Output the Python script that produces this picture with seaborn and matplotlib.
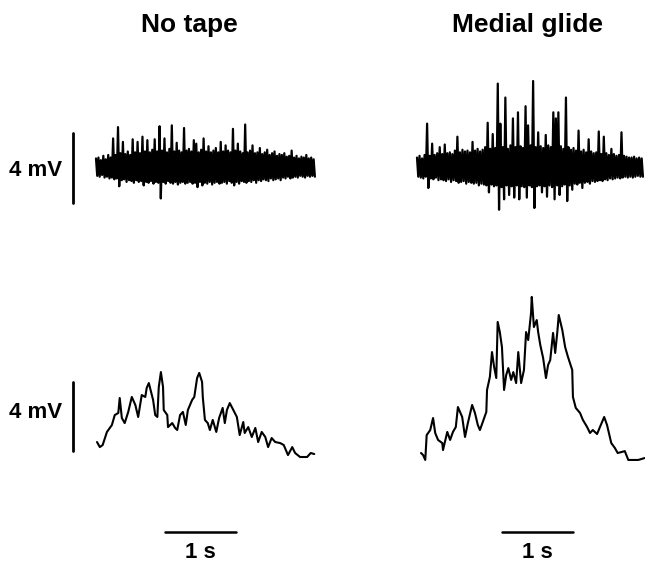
import numpy as np
import pandas as pd
import seaborn as sns
import matplotlib.pyplot as plt

# raw EMG, peak (upper) and trough (lower) excursions in mV, read every ~2.5 px
raw_notape_upper = [0.55, 0.6, 0.45, 0.7, 0.5, 0.75, 0.6, 1.7, 0.75, 2.35,
                    0.85, 1.5, 0.8, 0.95, 0.75, 1.65, 0.9, 1.5, 0.85, 1.8,
                    0.95, 1.6, 0.9, 1.05, 1.65, 0.95, 2.4, 1.0, 1.7, 0.9,
                    1.1, 2.45, 0.95, 1.45, 1.0, 0.9, 2.3, 1.0, 1.1, 0.95,
                    1.6, 1.4, 0.9, 1.05, 1.7, 0.95, 1.25, 0.9, 1.0, 1.15,
                    0.9, 1.5, 0.95, 1.3, 1.0, 0.9, 2.25, 1.0, 1.4, 0.95,
                    0.85, 2.5, 0.9, 1.0, 1.3, 0.85, 0.9, 1.15, 0.8, 0.9,
                    1.05, 0.75, 0.85, 0.95, 0.7, 0.8, 0.75, 0.85, 0.65, 0.7,
                    1.0, 0.6, 0.7, 0.55, 0.65, 0.6, 0.75, 0.55, 0.6, 0.5]
raw_notape_lower = [-0.45, -0.5, -0.4, -0.55, -0.5, -0.6, -0.55, -0.65, -0.6, -1.05,
                    -0.7, -0.65, -0.8, -0.7, -0.75, -0.85, -0.7, -0.8, -0.75, -1.0,
                    -0.8, -0.85, -0.75, -0.9, -0.8, -0.85, -1.75, -0.8, -0.9, -0.75,
                    -0.85, -0.9, -0.8, -0.95, -0.85, -0.8, -0.9, -0.85, -0.8, -0.9,
                    -0.85, -1.1, -0.8, -1.0, -0.85, -0.9, -0.8, -0.95, -0.85, -0.8,
                    -0.9, -0.85, -0.8, -0.9, -0.75, -0.85, -1.0, -0.8, -0.9, -0.75,
                    -0.8, -0.85, -0.75, -0.8, -0.7, -0.85, -0.7, -0.75, -0.65, -0.7,
                    -0.75, -0.6, -0.7, -0.65, -0.6, -0.7, -0.55, -0.6, -0.5, -0.6,
                    -0.55, -0.5, -0.55, -0.45, -0.5, -0.55, -0.45, -0.5, -0.45, -0.5]

raw_glide_upper = [0.6, 0.7, 0.55, 0.75, 2.55, 0.7, 1.4, 0.75, 0.85, 1.2,
                   0.8, 1.35, 0.85, 0.9, 0.8, 1.0, 1.8, 0.9, 1.05, 0.95,
                   1.0, 0.9, 1.5, 1.0, 1.1, 0.95, 1.05, 1.2, 2.6, 1.1,
                   1.95, 1.15, 4.85, 2.55, 1.2, 4.05, 1.1, 1.3, 2.85, 1.2,
                   3.2, 1.25, 1.15, 3.55, 2.45, 1.3, 5.0, 1.2, 2.05, 1.25,
                   1.15, 1.9, 1.3, 1.2, 3.2, 2.85, 3.2, 1.25, 1.1, 4.05,
                   1.2, 1.05, 1.15, 1.0, 2.15, 0.95, 1.05, 0.9, 1.65, 0.95,
                   0.85, 0.9, 2.1, 0.8, 1.8, 0.85, 0.75, 1.1, 0.8, 0.7,
                   0.75, 2.05, 0.7, 0.65, 0.6, 0.6, 0.65, 0.55, 0.6, 0.55]
raw_glide_lower = [-0.5, -0.55, -0.6, -0.5, -1.15, -0.6, -0.65, -0.55, -0.7, -0.65,
                   -0.7, -0.75, -0.65, -0.8, -0.7, -0.75, -0.85, -0.8, -0.75, -0.9,
                   -0.8, -0.85, -0.9, -0.85, -1.0, -0.9, -0.95, -1.0, -1.4, -0.95,
                   -1.05, -1.0, -2.4, -1.1, -1.8, -1.0, -1.55, -1.05, -1.7, -1.0,
                   -1.8, -1.05, -1.1, -1.7, -1.0, -1.1, -2.3, -1.05, -1.0, -1.4,
                   -1.05, -1.65, -1.0, -1.1, -1.8, -1.0, -1.55, -1.05, -0.95, -1.9,
                   -1.0, -1.25, -0.9, -0.95, -0.85, -1.15, -0.85, -0.8, -0.9, -0.75,
                   -0.8, -0.75, -0.7, -0.75, -0.65, -0.7, -0.6, -0.65, -0.6, -0.55,
                   -0.6, -0.55, -0.5, -0.55, -0.5, -0.55, -0.5, -0.45, -0.5, -0.5]

raw_notape_dur = 3.1   # s
raw_glide_dur = 3.2

# smoothed (rectified) envelopes: time (s) and amplitude (mV)
env_notape_t = [0, 0.04, 0.08, 0.14, 0.21, 0.25, 0.3, 0.32, 0.35, 0.39,
                0.44, 0.49, 0.54, 0.58, 0.63, 0.68, 0.7, 0.73, 0.79, 0.82,
                0.85, 0.87, 0.9, 0.93, 0.94, 0.99, 1.0, 1.06, 1.1, 1.13,
                1.17, 1.21, 1.25, 1.28, 1.34, 1.37, 1.41, 1.44, 1.48, 1.49,
                1.52, 1.56, 1.59, 1.63, 1.68, 1.72, 1.77, 1.8, 1.83, 1.87,
                1.92, 1.97, 2.01, 2.06, 2.08, 2.13, 2.18, 2.23, 2.27, 2.32,
                2.37, 2.41, 2.46, 2.51, 2.58, 2.63, 2.69, 2.75, 2.79, 2.86,
                2.96, 3.01, 3.06]
env_notape_mv = [1.32, 1.03, 1.15, 1.9, 2.3, 2.87, 2.99, 3.85, 2.7, 2.41,
                 3.05, 3.91, 3.45, 2.76, 4.02, 3.91, 4.43, 4.71, 3.74, 2.87,
                 2.76, 4.48, 5.34, 4.48, 3.16, 2.87, 2.18, 2.41, 2.13, 2.01,
                 2.87, 3.05, 2.3, 3.16, 3.74, 3.91, 5.0, 5.29, 4.77, 3.91,
                 2.59, 2.41, 2.01, 2.59, 1.9, 2.7, 3.28, 2.41, 3.16, 3.56,
                 3.16, 2.76, 1.72, 2.47, 1.84, 2.18, 1.61, 2.13, 1.32, 1.9,
                 1.61, 1.03, 1.55, 1.32, 1.26, 1.15, 0.57, 1.03, 0.69, 0.46,
                 0.46, 0.69, 0.63]

env_glide_t = [0, 0.03, 0.06, 0.08, 0.13, 0.17, 0.2, 0.24, 0.3, 0.31,
               0.37, 0.41, 0.45, 0.49, 0.52, 0.58, 0.62, 0.66, 0.72, 0.76,
               0.8, 0.83, 0.87, 0.92, 0.93, 0.97, 1.0, 1.03, 1.06, 1.08,
               1.11, 1.14, 1.17, 1.2, 1.23, 1.27, 1.3, 1.34, 1.37, 1.41,
               1.45, 1.48, 1.51, 1.55, 1.56, 1.59, 1.63, 1.65, 1.68, 1.72,
               1.76, 1.79, 1.82, 1.86, 1.89, 1.92, 1.94, 1.99, 2.03, 2.07,
               2.13, 2.14, 2.18, 2.24, 2.28, 2.34, 2.38, 2.42, 2.48, 2.52,
               2.58, 2.62, 2.68, 2.73, 2.77, 2.83, 2.87, 2.92, 2.99, 3.06, 3.15]
env_glide_mv = [0.69, 0.57, 0.29, 1.72, 2.01, 2.7, 1.84, 1.44, 1.26, 0.86,
                1.9, 1.44, 1.9, 2.18, 3.33, 2.76, 1.61, 2.41, 3.45, 2.99,
                2.3, 2.01, 2.47, 3.05, 4.31, 5.06, 6.49, 5.63, 5.0, 8.22,
                7.64, 6.78, 4.31, 5.17, 5.57, 4.89, 5.34, 4.71, 6.49, 4.71,
                5.46, 7.64, 7.18, 8.74, 9.66, 7.93, 8.33, 7.64, 6.9, 6.15,
                5.0, 5.75, 6.03, 7.59, 6.44, 7.64, 8.62, 7.76, 6.78, 6.21,
                5.46, 3.91, 3.28, 2.99, 2.59, 2.18, 1.84, 2.01, 1.78, 2.18,
                2.76, 2.3, 1.26, 0.98, 0.69, 0.75, 0.8, 0.29, 0.29, 0.29, 0.4]

titles = ["No tape", "Medial glide"]
amp_label = "4 mV"
time_label = "1 s"
amp_bar = 4.0    # mV
time_bar = 1.0   # s

# layout (pixels of a 645 x 564 figure)
W, H = 645, 564
PX_S, PX_MV = 71.0, 17.4


def zigzag(upper, lower, duration):
    n = len(upper)
    dt = duration / n
    t = np.arange(n) * dt
    x = np.empty(2 * n)
    y = np.empty(2 * n)
    x[0::2], x[1::2] = t, t + dt / 2
    y[0::2], y[1::2] = upper, lower
    return pd.DataFrame({"t": x, "mv": y})


sns.set_style("white")
plt.rcParams["font.family"] = ["Liberation Sans", "DejaVu Sans"]
plt.rcParams["text.color"] = "black"

fig = plt.figure(figsize=(W / 100, H / 100), dpi=100)

columns = [
    dict(left=0, right=322, raw0=96, env0=97, title_x=189,
         raw=zigzag(raw_notape_upper, raw_notape_lower, raw_notape_dur),
         env=pd.DataFrame({"t": env_notape_t, "mv": env_notape_mv}), bar0=165),
    dict(left=322, right=645, raw0=417, env0=421, title_x=527,
         raw=zigzag(raw_glide_upper, raw_glide_lower, raw_glide_dur),
         env=pd.DataFrame({"t": env_glide_t, "mv": env_glide_mv}), bar0=502),
]

raw_center = (H - 168) / PX_MV
env_zero = (H - 465) / PX_MV

for col, title in zip(columns, titles):
    ax = fig.add_axes([col["left"] / W, 0, (col["right"] - col["left"]) / W, 1])
    ax.set_xlim((col["left"] - col["raw0"]) / PX_S, (col["right"] - col["raw0"]) / PX_S)
    ax.set_ylim(0, H / PX_MV)
    ax.axis("off")

    raw = col["raw"].assign(mv=col["raw"]["mv"] + raw_center)
    sns.lineplot(data=raw, x="t", y="mv", ax=ax, color="black", lw=1.6,
                 estimator=None, sort=False)

    env = col["env"].assign(t=col["env"]["t"] + (col["env0"] - col["raw0"]) / PX_S,
                            mv=col["env"]["mv"] + env_zero)
    sns.lineplot(data=env, x="t", y="mv", ax=ax, color="black", lw=1.5,
                 estimator=None, sort=False)

    # time scale bar
    bx = (col["bar0"] - col["raw0"]) / PX_S
    by = (H - 532) / PX_MV
    ax.plot([bx, bx + time_bar], [by, by], color="black", lw=1.8, clip_on=False)
    ax.text(bx + time_bar / 2, (H - 542) / PX_MV, time_label, ha="center", va="top",
            fontsize=16, fontweight="bold", color="black")

    fig.text(col["title_x"] / W, 1 - 32 / H, title, ha="center", va="baseline",
             fontsize=19, fontweight="bold", color="black")

    if col["left"] == 0:
        vx = (73 - col["raw0"]) / PX_S
        lx = (62 - col["raw0"]) / PX_S
        for yc, ty in [(raw_center, (H - 170) / PX_MV), ((H - 416.5) / PX_MV, (H - 412) / PX_MV)]:
            ax.plot([vx, vx], [yc - amp_bar / 2, yc + amp_bar / 2], color="black",
                    lw=2, clip_on=False)
            ax.text(lx, ty, amp_label, ha="right", va="center", fontsize=16,
                    fontweight="bold", color="black")

fig.savefig("out.png", dpi=100, facecolor="white")
